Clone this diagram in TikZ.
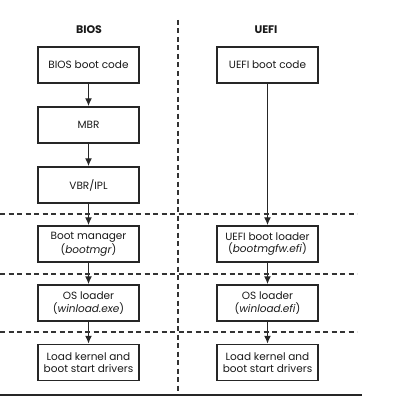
\documentclass[tikz,border=0pt]{standalone}
\usepackage{fontspec}
\setmainfont{Poppins}
\usetikzlibrary{arrows.meta}
\tikzset{
  box/.style={draw=black!85, line width=1.5pt, minimum width=101pt, minimum height=36pt, inner sep=1pt, align=center, font=\fontsize{10.5}{12.5}\selectfont, text=black!90},
  head/.style={font=\bfseries\fontsize{11}{13}\selectfont, text=black!90},
  flow/.style={draw=black!85, line width=1.4pt, -{Latex[length=8pt,width=7pt]}},
  sep/.style={draw=black!80, line width=1.1pt, dash pattern=on 5pt off 3.5pt}
}
\begin{document}
\begin{tikzpicture}[x=1pt,y=-1pt]
\useasboundingbox (0,0) rectangle (404,404);
\node[head] (hb) at (89,30) {BIOS};
\node[head] (hu) at (266,30) {UEFI};
\node[box] (b1) at (88.5,65) {BIOS boot code};
\node[box] (b2) at (88.5,125) {MBR};
\node[box] (b3) at (88.5,185) {VBR/IPL};
\node[box] (b4) at (88.5,244) {Boot manager\\(\textit{bootmgr})};
\node[box] (b5) at (88.5,303) {OS loader\\(\textit{winload.exe})};
\node[box] (b6) at (88.5,362.5) {Load kernel and\\boot start drivers};
\node[box] (u1) at (267.5,65) {UEFI boot code};
\node[box] (u4) at (267.5,244) {UEFI boot loader\\(\textit{bootmgfw.efi})};
\node[box] (u5) at (267.5,303) {OS loader\\(\textit{winload.efi})};
\node[box] (u6) at (267.5,362.5) {Load kernel and\\boot start drivers};
\draw[flow] (b1) -- (b2);
\draw[flow] (b2) -- (b3);
\draw[flow] (b3) -- (b4);
\draw[flow] (b4) -- (b5);
\draw[flow] (b5) -- (b6);
\draw[flow] (u1) -- (u4);
\draw[flow] (u4) -- (u5);
\draw[flow] (u5) -- (u6);
\coordinate (vt) at (178,20);
\coordinate (vb) at (178,392);
\draw[sep] (vt) -- (vb);
\coordinate (l1a) at (0,214); \coordinate (l1b) at (357,214);
\coordinate (l2a) at (0,274); \coordinate (l2b) at (357,274);
\coordinate (l3a) at (0,332); \coordinate (l3b) at (357,332);
\draw[sep] (l1a) -- (l1b);
\draw[sep] (l2a) -- (l2b);
\draw[sep] (l3a) -- (l3b);
\coordinate (ba) at (0,395); \coordinate (bb) at (362,395);
\draw[black!85, line width=1.1pt] (ba) -- (bb);
\end{tikzpicture}
\end{document}
